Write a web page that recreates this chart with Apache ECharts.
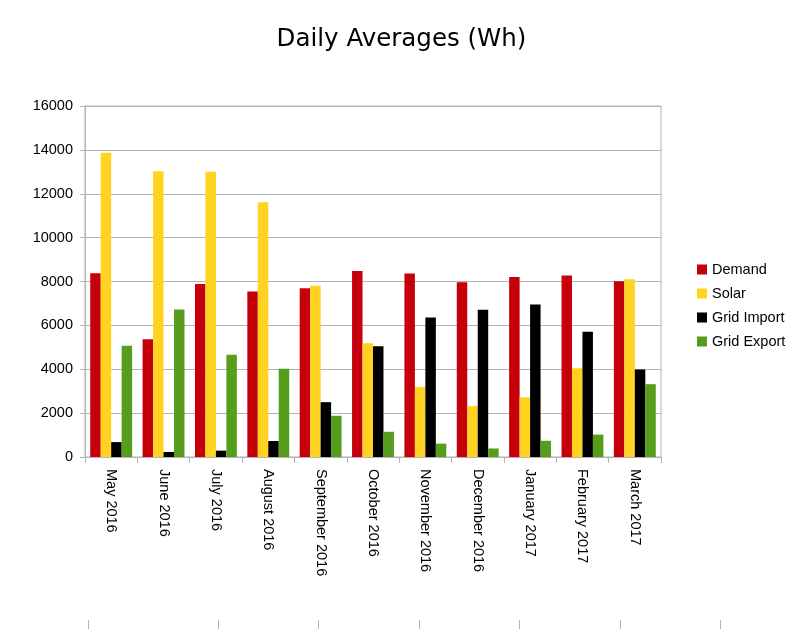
<!DOCTYPE html>
<html>
<head>
<meta charset="utf-8">
<script src="https://cdn.jsdelivr.net/npm/echarts@6/dist/echarts.min.js"></script>
<style>
html,body{margin:0;padding:0;background:#fff;}
#chart{width:803px;height:629px;}
</style>
</head>
<body>
<div id="chart"></div>
<script>
const categories = ["May 2016","June 2016","July 2016","August 2016","September 2016","October 2016","November 2016","December 2016","January 2017","February 2017","March 2017"];
const demand     = [8380, 5370, 7890, 7540, 7690, 8480, 8360, 7970, 8210, 8270, 8010];
const solar      = [13870, 13020, 13000, 11610, 7810, 5190, 3190, 2320, 2720, 4050, 8100];
const gridImport = [680, 230, 290, 730, 2500, 5050, 6360, 6710, 6950, 5710, 3990];
const gridExport = [5070, 6720, 4660, 4020, 1880, 1150, 610, 390, 740, 1020, 3320];
const seriesNames = ["Demand","Solar","Grid Import","Grid Export"];
const colors = ["#c5000b","#ffd320","#000000","#579d1c"];

const font = "'Liberation Sans', Arial, sans-serif";
const chart = echarts.init(document.getElementById('chart'), null, {renderer:'canvas'});

const bottomLines = [88, 218, 318, 419, 519, 620, 720].map(x => ({
  type:'line', shape:{x1:x+0.5, y1:620, x2:x+0.5, y2:629},
  style:{stroke:'#b3b3b3', lineWidth:1}, silent:true
}));

chart.setOption({
  animation:false,
  backgroundColor:'#ffffff',
  color: colors,
  title:{
    text:'Daily Averages (Wh)', left:'center', top:22,
    textStyle:{fontFamily:"'DejaVu Sans', Verdana, sans-serif", fontSize:24.5, fontWeight:'normal', color:'#000'}
  },
  legend:{
    orient:'vertical', left:692, top:257,
    itemWidth:10, itemHeight:10, itemGap:9,
    icon:'rect',
    textStyle:{fontFamily:font, fontSize:14.5, color:'#000'},
    data: seriesNames
  },
  grid:{
    left:85, right:142, top:106, bottom:172,
    show:true, borderColor:'#b3b3b3', borderWidth:1
  },
  xAxis:{
    type:'category', data:categories,
    axisLine:{show:true, lineStyle:{color:'#b3b3b3'}},
    axisTick:{show:true, length:6, lineStyle:{color:'#b3b3b3'}},
    axisLabel:{rotate:-90, margin:12, fontFamily:font, fontSize:14.5, color:'#000', interval:0}
  },
  yAxis:{
    type:'value', min:0, max:16000, interval:2000,
    axisLine:{show:true, lineStyle:{color:'#b3b3b3'}},
    axisTick:{show:true, length:5, lineStyle:{color:'#b3b3b3'}},
    splitLine:{show:true, lineStyle:{color:'#b3b3b3', width:1}},
    axisLabel:{margin:12, fontFamily:font, fontSize:14.5, color:'#000', formatter: v => String(v)}
  },
  series:[
    {name:seriesNames[0], type:'bar', data:demand, barGap:'0%', barCategoryGap:'20%'},
    {name:seriesNames[1], type:'bar', data:solar, barGap:'0%', barCategoryGap:'20%'},
    {name:seriesNames[2], type:'bar', data:gridImport, barGap:'0%', barCategoryGap:'20%'},
    {name:seriesNames[3], type:'bar', data:gridExport, barGap:'0%', barCategoryGap:'20%'}
  ],
  graphic: bottomLines
});
</script>
</body>
</html>
